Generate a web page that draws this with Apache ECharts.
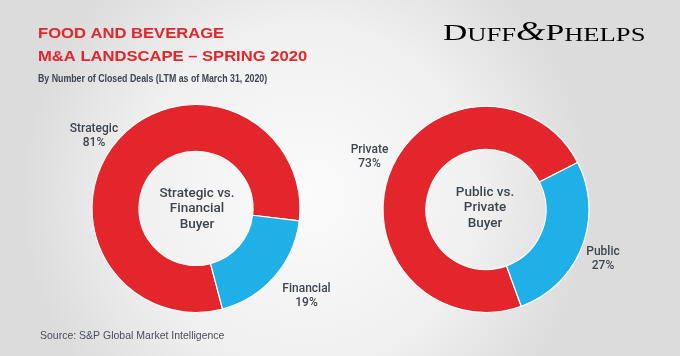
<!DOCTYPE html>
<html>
<head>
<meta charset="utf-8">
<script src="https://cdn.jsdelivr.net/npm/echarts@6/dist/echarts.min.js"></script>
<style>
html,body{margin:0;padding:0;background:#eee;}
#chart{width:680px;height:356px;}
</style>
</head>
<body>
<div id="chart"></div>
<script>
// ---- data ----
const titleLines = ['FOOD AND BEVERAGE', 'M&A LANDSCAPE – SPRING 2020'];
const subtitleText = 'By Number of Closed Deals (LTM as of March 31, 2020)';
const sourceText = 'Source: S&P Global Market Intelligence';
const leftCategories = ['Strategic', 'Financial'];
const leftValues = [81, 19];
const leftCenterLines = ['Strategic vs.', 'Financial', 'Buyer'];
const rightCategories = ['Private', 'Public'];
const rightValues = [73, 27];
const rightCenterLines = ['Public vs.', 'Private', 'Buyer'];

// ---- styles ----
const RED = '#e2262b';
const BLUE = '#1eb0e6';
const TEXT = '#3f454e';
const LABEL_FONT = 'Roboto, "Liberation Sans", sans-serif';

const chart = echarts.init(document.getElementById('chart'), null, {renderer: 'canvas'});

const leftLabelPos = [[94, 136], [306.5, 296]];
const rightLabelPos = [[369.5, 157], [603, 259]];

function pieSeries(cats, vals, center, radius, startAngle, labelPos) {
  return {
    type: 'pie',
    center: center,
    radius: radius,
    startAngle: startAngle,
    clockwise: true,
    silent: true,
    itemStyle: {borderColor: '#ffffff', borderWidth: 1.2},
    label: {
      show: true,
      position: 'outside',
      formatter: '{b}\n{c}%',
      color: TEXT,
      fontFamily: LABEL_FONT,
      fontWeight: 500,
      fontSize: 12,
      lineHeight: 14
    },
    labelLine: {show: false},
    labelLayout: function (p) {
      const pos = labelPos[p.dataIndex];
      return {x: pos[0], y: pos[1], align: 'center', verticalAlign: 'middle'};
    },
    data: cats.map((c, i) => ({
      name: c,
      value: vals[i],
      itemStyle: {color: i === 0 ? RED : BLUE}
    }))
  };
}

const option = {
  animation: false,
  backgroundColor: {
    type: 'radial', x: 0.45, y: 0.55, r: 0.8,
    colorStops: [
      {offset: 0, color: '#fbfbfb'},
      {offset: 0.6, color: '#f0f0f0'},
      {offset: 1, color: '#dcdcdc'}
    ]
  },
  graphic: [
    {
      type: 'text', x: 38, y: 22, scaleX: 1.07, silent: true,
      style: {
        text: titleLines.join('\n'), x: 0, y: 0, fill: RED, lineHeight: 23,
        fontFamily: '"Liberation Sans", Arial, sans-serif', fontWeight: 'bold', fontSize: 15.5
      }
    },
    {
      type: 'text', x: 38, y: 73, scaleX: 0.8, silent: true,
      style: {text: subtitleText, x: 0, y: 0, fill: TEXT, font: 'bold 11px "Liberation Sans", Arial, sans-serif'}
    },
    {
      type: 'text', x: 40, y: 331, silent: true,
      style: {text: sourceText, x: 0, y: 0, fill: '#4a4f56', font: '10.5px "Liberation Sans", Arial, sans-serif'}
    },
    {
      type: 'text', x: 197, y: 209, silent: true,
      style: {
        text: leftCenterLines.join('\n'), x: 0, y: 0, align: 'center', verticalAlign: 'middle',
        fill: TEXT, fontFamily: LABEL_FONT, fontWeight: 500, fontSize: 13.5, lineHeight: 15.5
      }
    },
    {
      type: 'text', x: 485, y: 208, silent: true,
      style: {
        text: rightCenterLines.join('\n'), x: 0, y: 0, align: 'center', verticalAlign: 'middle',
        fill: TEXT, fontFamily: LABEL_FONT, fontWeight: 500, fontSize: 13.5, lineHeight: 15.5
      }
    },
    {
      type: 'text', x: 443, y: 20, scaleX: 1.4, silent: true,
      style: {
        text: '{a|D}{b|UFF}{c|&}{a|P}{b|HELPS}', x: 0, y: 0,
        rich: {
          a: {fontFamily: '"Liberation Serif", serif', fontSize: 24, color: '#3c4653', verticalAlign: 'bottom', lineHeight: 26},
          b: {fontFamily: '"Liberation Serif", serif', fontSize: 19, color: '#3c4653', verticalAlign: 'bottom', lineHeight: 26},
          c: {fontFamily: '"Liberation Serif", serif', fontStyle: 'italic', fontSize: 27, color: RED, verticalAlign: 'bottom', lineHeight: 26}
        }
      }
    }
  ],
  series: [
    pieSeries(leftCategories, leftValues, [196, 208.5], [57, 104], 284.8, leftLabelPos),
    pieSeries(rightCategories, rightValues, [486, 209.5], [60, 103], 290, rightLabelPos)
  ]
};
chart.setOption(option);
</script>
</body>
</html>
